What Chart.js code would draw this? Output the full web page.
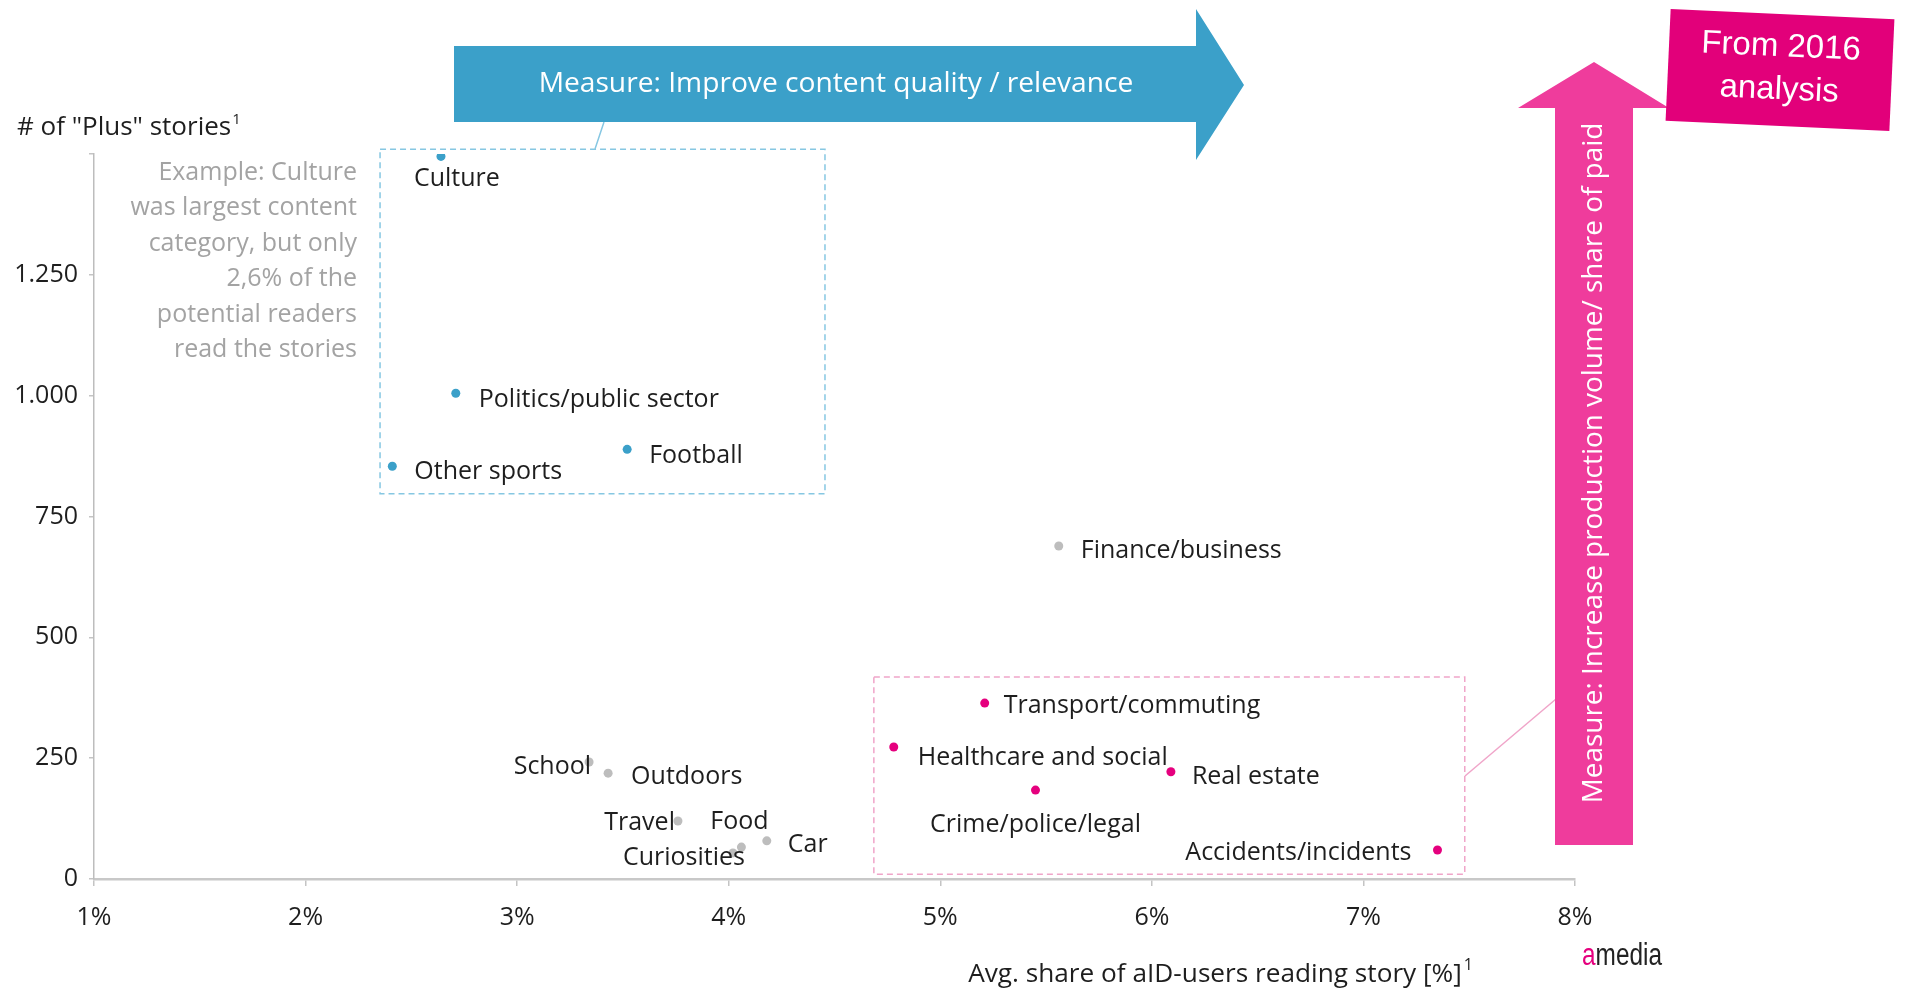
<!DOCTYPE html>
<html><head><meta charset="utf-8">
<script src="https://cdn.jsdelivr.net/npm/chart.js@4.4.1/dist/chart.umd.min.js"></script>
<style>html,body{margin:0;padding:0;background:#fff;overflow:hidden}#wrap{width:1914px;height:989px;position:relative}</style>
</head><body><div id="wrap"><canvas id="c" width="1914" height="989"></canvas></div>
<script>
// ---- data ----
const blueNames = ['Culture', 'Politics/public sector', 'Football', 'Other sports'];
const blueX = [2.64, 2.71, 3.52, 2.41];
const blueY = [1495, 1005, 889, 854];

const grayNames = ['Finance/business', 'School', 'Outdoors', 'Travel', 'Food', 'Curiosities', 'Car'];
const grayX = [5.56, 3.34, 3.43, 3.76, 4.06, 4.02, 4.18];
const grayY = [689, 242, 219, 120, 66, 54, 79];

const pinkNames = ['Transport/commuting', 'Healthcare and social', 'Real estate', 'Crime/police/legal', 'Accidents/incidents'];
const pinkX = [5.21, 4.78, 6.09, 5.45, 7.35];
const pinkY = [364, 273, 222, 184, 60];

const xTicks = [1, 2, 3, 4, 5, 6, 7, 8];
const xTickLabels = ['1%', '2%', '3%', '4%', '5%', '6%', '7%', '8%'];
const yTicks = [0, 250, 500, 750, 1000, 1250, 1500];
const yTickLabels = ['0', '250', '500', '750', '1.000', '1.250', ''];

const yTitle = '# of "Plus" stories';
const xTitle = 'Avg. share of aID-users reading story [%]';
const noteLines = ['Example: Culture', 'was largest content', 'category, but only', '2,6% of the', 'potential readers', 'read the stories'];
const blueArrowText = 'Measure: Improve content quality / relevance';
const pinkArrowText = 'Measure: Increase production volume/ share of paid';
const stampLines = ['From 2016', 'analysis'];

// ---- label placement (text align, dx, dy from point) ----
const labelPlace = {
  'Culture': ['left', -27, 22],
  'Politics/public sector': ['left', 23, 7],
  'Football': ['left', 22, 7],
  'Other sports': ['left', 22, 6],
  'Finance/business': ['left', 22, 5],
  'School': ['right', 2, 5],
  'Outdoors': ['left', 23, 4],
  'Travel': ['right', -3, 2],
  'Food': ['center', -2, -25],
  'Curiosities': ['right', 12, 5],
  'Car': ['left', 21, 4],
  'Transport/commuting': ['left', 19, 3],
  'Healthcare and social': ['left', 24, 11],
  'Real estate': ['left', 21, 5],
  'Crime/police/legal': ['center', 0, 35],
  'Accidents/incidents': ['right', -26, 3]
};

const FONT = "'Open Sans', sans-serif";
const BLUE = '#3ba0c9', PINK = '#e5007e', GRAY = '#bdbdbd';

function pts(xs, ys) { return xs.map((x, i) => ({ x: x, y: ys[i] })); }

function fitSize(ctx, text, width, family, weight) {
  ctx.font = (weight || '') + ' 100px ' + family;
  return 100 * width / ctx.measureText(text).width;
}

function dashedBox(ctx, xs, ys, b, color) {
  const l = xs.getPixelForValue(b.x0), r = xs.getPixelForValue(b.x1);
  const t = ys.getPixelForValue(b.y1), bt = ys.getPixelForValue(b.y0);
  ctx.save();
  ctx.strokeStyle = color; ctx.lineWidth = 1.5; ctx.setLineDash([6, 4]);
  ctx.strokeRect(l, t, r - l, bt - t);
  ctx.restore();
}

const blueBox = { x0: 2.352, x1: 4.455, y0: 797, y1: 1510 };
const pinkBox = { x0: 4.686, x1: 7.479, y0: 10, y1: 418 };

const deco = {
  id: 'deco',
  beforeDatasetsDraw(chart) {
    const ctx = chart.ctx, xs = chart.scales.x, ys = chart.scales.y;
    dashedBox(ctx, xs, ys, blueBox, '#86c7e2');
    dashedBox(ctx, xs, ys, pinkBox, '#f0a5c9');
  },
  afterDatasetsDraw(chart) {
    const ctx = chart.ctx;
    ctx.save();
    ctx.font = '25px ' + FONT;
    ctx.fillStyle = '#1e1e1e';
    ctx.textBaseline = 'middle';
    chart.data.datasets.forEach((ds, di) => {
      const meta = chart.getDatasetMeta(di);
      meta.data.forEach((el, i) => {
        const name = ds.names[i];
        const p = labelPlace[name];
        ctx.textAlign = p[0];
        ctx.fillText(name, el.x + p[1], el.y + p[2]);
      });
    });
    ctx.restore();
  },
  afterDraw(chart) {
    const ctx = chart.ctx;
    ctx.save();
    // blue callout line
    ctx.strokeStyle = '#86c7e2'; ctx.lineWidth = 1.5;
    ctx.beginPath(); ctx.moveTo(604, 122); ctx.lineTo(595, 149); ctx.stroke();
    // pink callout line
    ctx.strokeStyle = '#f0a5c9';
    ctx.beginPath(); ctx.moveTo(1465, 776); ctx.lineTo(1556, 699); ctx.stroke();

    // blue arrow
    ctx.fillStyle = BLUE;
    ctx.beginPath();
    ctx.moveTo(454, 46); ctx.lineTo(1196, 46); ctx.lineTo(1196, 9); ctx.lineTo(1244, 85);
    ctx.lineTo(1196, 160); ctx.lineTo(1196, 122); ctx.lineTo(454, 122); ctx.closePath(); ctx.fill();
    ctx.fillStyle = '#ffffff';
    let s = fitSize(ctx, blueArrowText, 595, FONT);
    ctx.font = s.toFixed(2) + 'px ' + FONT;
    ctx.textAlign = 'center'; ctx.textBaseline = 'middle';
    ctx.fillText(blueArrowText, 836, 84);

    // pink arrow
    ctx.fillStyle = '#ef3c9c';
    ctx.beginPath();
    ctx.moveTo(1555, 845); ctx.lineTo(1555, 108); ctx.lineTo(1518, 108); ctx.lineTo(1594, 62);
    ctx.lineTo(1669, 108); ctx.lineTo(1633, 108); ctx.lineTo(1633, 845); ctx.closePath(); ctx.fill();
    ctx.save();
    ctx.translate(1594, 463); ctx.rotate(-Math.PI / 2);
    s = fitSize(ctx, pinkArrowText, 681, FONT);
    ctx.font = s.toFixed(2) + 'px ' + FONT;
    ctx.fillStyle = '#ffffff'; ctx.textAlign = 'center'; ctx.textBaseline = 'middle';
    ctx.fillText(pinkArrowText, 0, 0);
    ctx.restore();

    // stamp
    ctx.save();
    ctx.translate(1780, 70); ctx.rotate(2.6 * Math.PI / 180);
    ctx.fillStyle = '#e2007a';
    ctx.fillRect(-112, -56, 224, 112);
    ctx.fillStyle = '#ffffff'; ctx.font = '33px "Liberation Sans", Arial, sans-serif';
    ctx.textAlign = 'center'; ctx.textBaseline = 'middle';
    ctx.fillText(stampLines[0], 0, -23);
    ctx.fillText(stampLines[1], 0, 20);
    ctx.restore();

    // y title
    ctx.fillStyle = '#1e1e1e'; ctx.textAlign = 'left'; ctx.textBaseline = 'alphabetic';
    ctx.font = '26px ' + FONT;
    ctx.fillText(yTitle, 17, 135);
    let w = ctx.measureText(yTitle).width;
    ctx.font = '15px ' + FONT;
    ctx.fillText('1', 17 + w + 1, 124);

    // note text
    ctx.fillStyle = '#a3a3a3'; ctx.font = '25px ' + FONT; ctx.textAlign = 'right';
    noteLines.forEach((t, i) => ctx.fillText(t, 357, 180 + i * 35.4));

    // x title
    ctx.fillStyle = '#1e1e1e'; ctx.textAlign = 'right';
    ctx.font = '16px ' + FONT;
    const supW = ctx.measureText('1').width;
    ctx.fillText('1', 1473, 970);
    s = fitSize(ctx, xTitle, 505 - supW - 2, FONT);
    ctx.font = s.toFixed(2) + 'px ' + FONT;
    ctx.fillText(xTitle, 1473 - supW - 2, 982);

    // amedia logo (horizontally condensed to fit)
    ctx.save();
    ctx.textAlign = 'left';
    ctx.font = '31px "Liberation Sans", Arial, sans-serif';
    const aw = ctx.measureText('a').width, mw = ctx.measureText('media').width;
    const k = 80 / (aw + mw);
    ctx.translate(1582, 965); ctx.scale(k, 1);
    ctx.fillStyle = PINK; ctx.fillText('a', 0, 0);
    ctx.fillStyle = '#222'; ctx.fillText('media', aw, 0);
    ctx.restore();
    ctx.restore();
  }
};

Chart.defaults.font.family = FONT;

new Chart(document.getElementById('c'), {
  type: 'scatter',
  data: {
    datasets: [
      { names: blueNames, data: pts(blueX, blueY), backgroundColor: BLUE, pointRadius: 4.5, borderWidth: 0 },
      { names: grayNames, data: pts(grayX, grayY), backgroundColor: GRAY, pointRadius: 4.5, borderWidth: 0 },
      { names: pinkNames, data: pts(pinkX, pinkY), backgroundColor: PINK, pointRadius: 4.5, borderWidth: 0 }
    ]
  },
  options: {
    responsive: false,
    animation: false,
    layout: { padding: { top: 154, right: 339, left: 0, bottom: 0 } },
    plugins: { legend: { display: false }, tooltip: { enabled: false } },
    scales: {
      x: {
        type: 'linear', min: 1, max: 8,
        afterBuildTicks: s => { s.ticks = xTicks.map(v => ({ value: v })); },
        ticks: { callback: (v, i) => xTickLabels[i], font: { size: 25 }, color: '#1e1e1e', padding: 17, maxRotation: 0 },
        grid: { display: true, drawOnChartArea: false, drawTicks: true, tickLength: 7, color: '#c4c4c4', lineWidth: 1.5 },
        border: { display: true, color: '#c8c8c8', width: 2.5 },
        afterFit: s => { s.height = 110; }
      },
      y: {
        type: 'linear', min: 0, max: 1500,
        afterBuildTicks: s => { s.ticks = yTicks.map(v => ({ value: v })); },
        ticks: { callback: (v, i) => yTickLabels[i], font: { size: 25 }, color: '#1e1e1e', padding: 11 },
        grid: { display: true, drawOnChartArea: false, drawTicks: true, tickLength: 5, color: '#c4c4c4', lineWidth: 1.5 },
        border: { display: true, color: '#bdbdbd', width: 1.5 },
        afterFit: s => { s.width = 94; }
      }
    }
  },
  plugins: [deco]
});
</script></body></html>
